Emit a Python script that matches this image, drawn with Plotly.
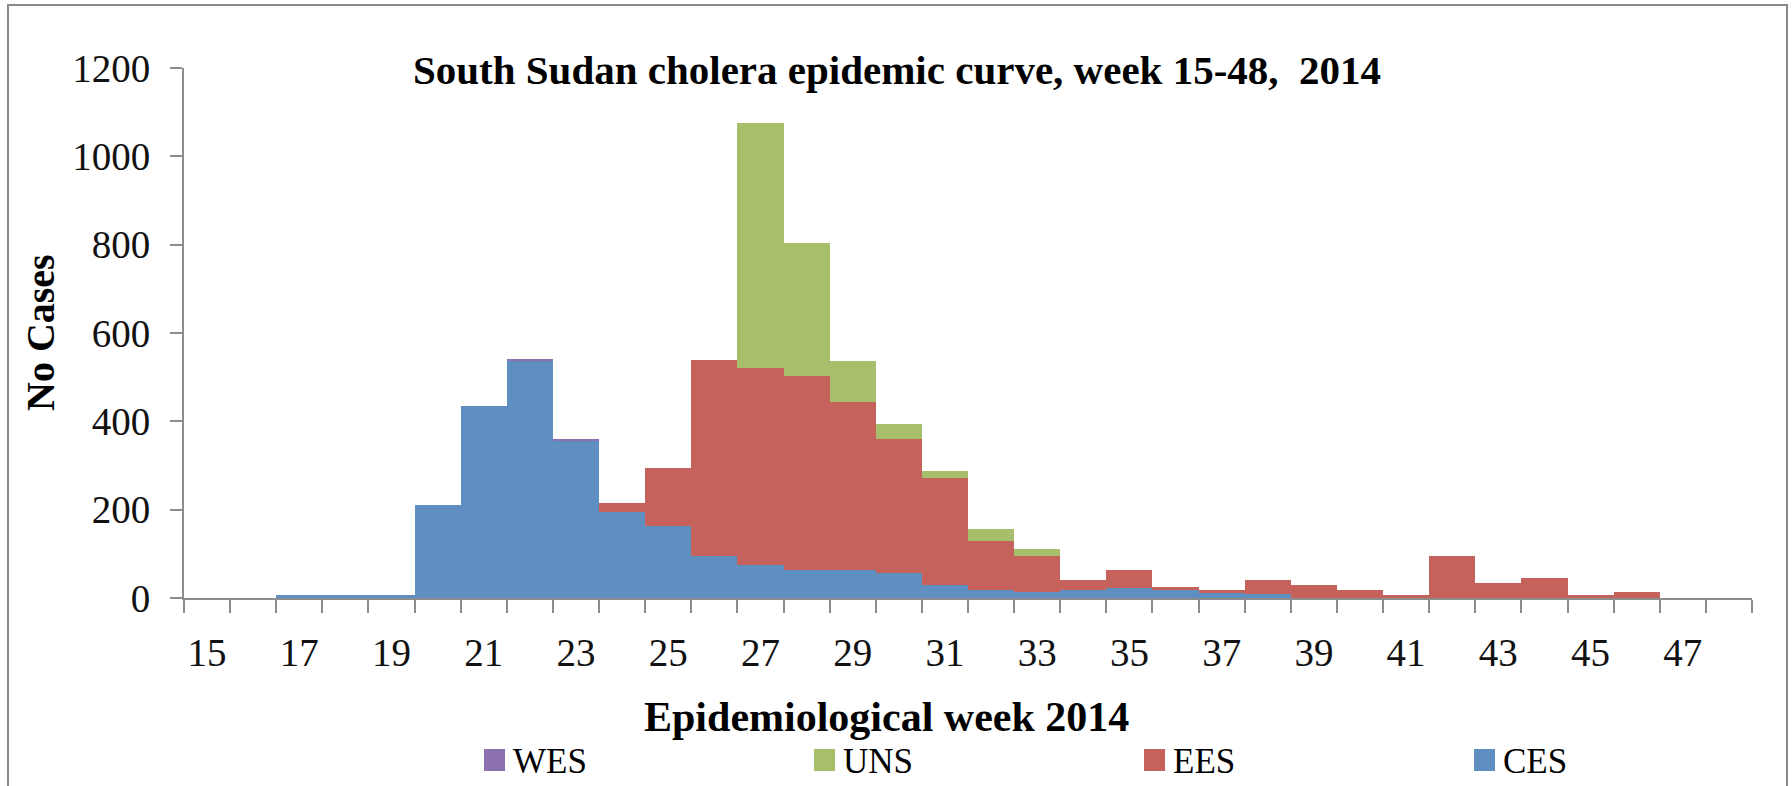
import plotly.graph_objects as go

# Epidemiological weeks 15-48, 2014
weeks = list(range(15, 49))

# Weekly cholera cases by state
ces = [0, 0, 6, 6, 6, 210, 435, 537, 356, 195, 163, 96, 74, 63, 63, 57, 30,
       19, 14, 19, 23, 19, 12, 8, 0, 0, 0, 0, 0, 0, 0, 0, 0, 0]
ees = [0, 0, 0, 0, 0, 0, 0, 0, 0, 21, 131, 444, 447, 440, 380, 302, 241,
       110, 81, 21, 40, 5, 6, 32, 29, 19, 7, 95, 35, 46, 7, 13, 0, 0]
uns = [0, 0, 0, 0, 0, 0, 0, 0, 0, 0, 0, 0, 554, 300, 93, 34, 17,
       27, 17, 0, 0, 0, 0, 0, 0, 0, 0, 0, 0, 0, 0, 0, 0, 0]
wes = [0, 0, 0, 0, 0, 0, 0, 3, 3, 0, 0, 0, 0, 0, 0, 0, 0,
       0, 0, 0, 0, 0, 0, 0, 0, 0, 0, 0, 0, 0, 0, 0, 0, 0]

series_names = ["CES", "EES", "UNS", "WES"]
series_values = [ces, ees, uns, wes]
series_colors = ["#5F8EC0", "#C6625C", "#A7BF6B", "#8B72AE"]

y_ticks = [0, 200, 400, 600, 800, 1000, 1200]
x_tick_weeks = list(range(15, 48, 2))

FONT = "Liberation Serif"
AXIS_GREY = "#8C8C8C"

W, H = 1792, 786
PX_L, PX_R, PX_T, PX_B = 184, 1752, 68, 598


def px(x):
    return (x - PX_L) / (PX_R - PX_L)


def py(y):
    return (PX_B - y) / (PX_B - PX_T)


fig = go.Figure()
for name, vals, col in zip(series_names, series_values, series_colors):
    fig.add_trace(go.Bar(x=weeks, y=vals, name=name, width=1.0,
                         marker=dict(color=col, line=dict(width=0)),
                         showlegend=False))

fig.update_layout(
    width=W, height=H,
    barmode="stack", bargap=0,
    plot_bgcolor="white", paper_bgcolor="white",
    margin=dict(l=PX_L, r=W - PX_R, t=PX_T, b=H - PX_B, autoexpand=False),
    font=dict(family=FONT, color="#000000"),
)

fig.update_xaxes(
    range=[14.5, 48.5], showgrid=False, zeroline=False,
    showline=True, linecolor=AXIS_GREY, linewidth=2,
    tickmode="array", tickvals=x_tick_weeks,
    ticktext=[str(w) for w in x_tick_weeks],
    ticks="outside", ticklen=0, tickcolor="rgba(0,0,0,0)",
    ticklabelstandoff=19,
    tickfont=dict(family=FONT, size=39, color="#111111"),
    minor=dict(tickmode="array",
               tickvals=[w - 0.5 for w in weeks] + [weeks[-1] + 0.5],
               ticks="outside", ticklen=13, tickcolor=AXIS_GREY, tickwidth=2,
               showgrid=False),
)

fig.update_yaxes(
    range=[0, 1200], showgrid=False, zeroline=False,
    showline=True, linecolor=AXIS_GREY, linewidth=2,
    tickmode="array", tickvals=y_ticks,
    ticks="outside", ticklen=12, tickcolor=AXIS_GREY, tickwidth=2,
    ticklabelstandoff=12,
    tickfont=dict(family=FONT, size=39, color="#111111"),
)

annotations = [
    dict(text="<b>South Sudan cholera epidemic curve, week 15-48,\u00a0 2014</b>",
         x=px(897), y=py(70), xref="paper", yref="paper",
         xanchor="center", yanchor="middle", showarrow=False,
         font=dict(family=FONT, size=41, color="#000000")),
    dict(text="<b>No Cases</b>", x=px(40), y=py(333), xref="paper", yref="paper",
         xanchor="center", yanchor="middle", textangle=-90, showarrow=False,
         font=dict(family=FONT, size=40, color="#000000")),
    dict(text="<b>Epidemiological week 2014</b>", x=px(886), y=py(717),
         xref="paper", yref="paper", xanchor="center", yanchor="middle",
         showarrow=False, font=dict(family=FONT, size=42, color="#000000")),
]

shapes = [
    # outer chart frame
    dict(type="rect", xref="paper", yref="paper",
         x0=px(8), x1=px(1787), y0=py(800), y1=py(5),
         line=dict(color="#8A8A8A", width=2), fillcolor="rgba(0,0,0,0)",
         layer="below"),
]

# Legend row: WES, UNS, EES, CES
legend_order = list(reversed(range(len(series_names))))
for i, k in enumerate(legend_order):
    sx = 484 + i * 330
    shapes.append(dict(type="rect", xref="paper", yref="paper",
                       x0=px(sx), x1=px(sx + 21), y0=py(771), y1=py(749),
                       line=dict(width=0), fillcolor=series_colors[k]))
    annotations.append(dict(text=series_names[k], x=px(sx + 27), y=py(761),
                            xref="paper", yref="paper", xanchor="left",
                            yanchor="middle", showarrow=False,
                            font=dict(family=FONT, size=35, color="#000000")))

fig.update_layout(annotations=annotations, shapes=shapes)

fig.write_html("out.html")
